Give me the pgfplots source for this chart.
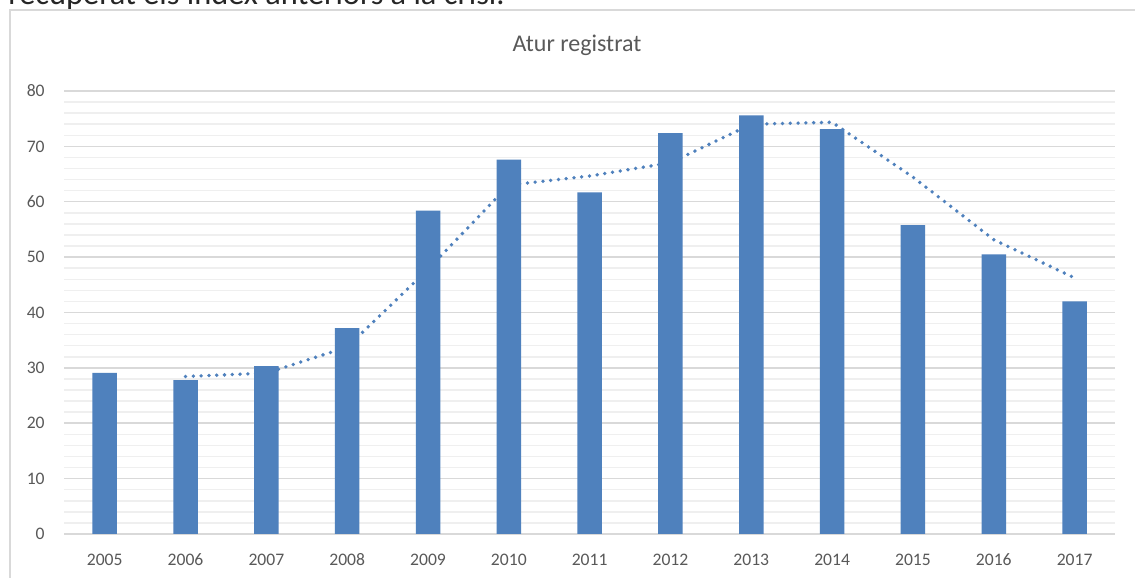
\documentclass[border=0pt]{standalone}
\usepackage{pgfplots}
\pgfplotsset{compat=1.18}
\usepackage{fontspec}
\setmainfont{Carlito}
\definecolor{barblue}{HTML}{4F81BD}
\definecolor{txtgray}{HTML}{595959}
\definecolor{gridmaj}{HTML}{D9D9D9}
\definecolor{gridmin}{HTML}{EFEFEF}
\begin{document}
\begin{tikzpicture}
\useasboundingbox (0pt,0pt) rectangle (567.5pt,289pt);
\clip (0pt,0pt) rectangle (567.5pt,289pt);
\node[anchor=base west, inner sep=0pt, font=\fontsize{16.2}{19}\selectfont, text=black!85] at (4pt,286.5pt) {recuperat els index anteriors a la crisi.};
\draw[gridmaj, line width=1pt, fill=white] (5pt,284pt) rectangle (580pt,-10pt);
\node[anchor=base, inner sep=0pt, font=\fontsize{12}{14}\selectfont, text=txtgray] at (288.5pt,263pt) {Atur registrat};
\begin{axis}[
  at={(32.15pt,22pt)}, anchor=south west, scale only axis,
  width=525.35pt, height=221.5pt,
  xmin=-0.5, xmax=12.5, ymin=0, ymax=80,
  ytick={0,10,...,80}, minor y tick num=4,
  xtick={0,...,12},
  xticklabels={2005,2006,2007,2008,2009,2010,2011,2012,2013,2014,2015,2016,2017},
  ymajorgrids, yminorgrids,
  major grid style={gridmaj, line width=0.75pt},
  minor grid style={gridmin, line width=0.75pt},
  axis line style={draw=none},
  tick style={draw=none},
  /pgf/number format/assume math mode=true,
  ticklabel style={font=\fontsize{8.8}{10}\selectfont, text=txtgray, inner sep=0pt},
  yticklabel style={anchor=east, xshift=-9.65pt},
  xticklabel style={anchor=north, yshift=-9.75pt},
]
\addplot[ybar, bar width=12.25pt, fill=barblue, draw=none] coordinates {
(0,29.1) (1,27.8) (2,30.3) (3,37.2) (4,58.4) (5,67.6) (6,61.7)
(7,72.4) (8,75.6) (9,73.1) (10,55.8) (11,50.5) (12,42.0)
};
\addplot[barblue, line width=1.9pt, line cap=round, dash pattern=on 0pt off 3.9pt] coordinates {
(1,28.45) (2,29.05) (3,33.75) (4,47.8) (5,63.0) (6,64.65) (7,67.05)
(8,74.0) (9,74.35) (10,64.45) (11,53.15) (12,46.25)
};
\end{axis}
\end{tikzpicture}
\end{document}
